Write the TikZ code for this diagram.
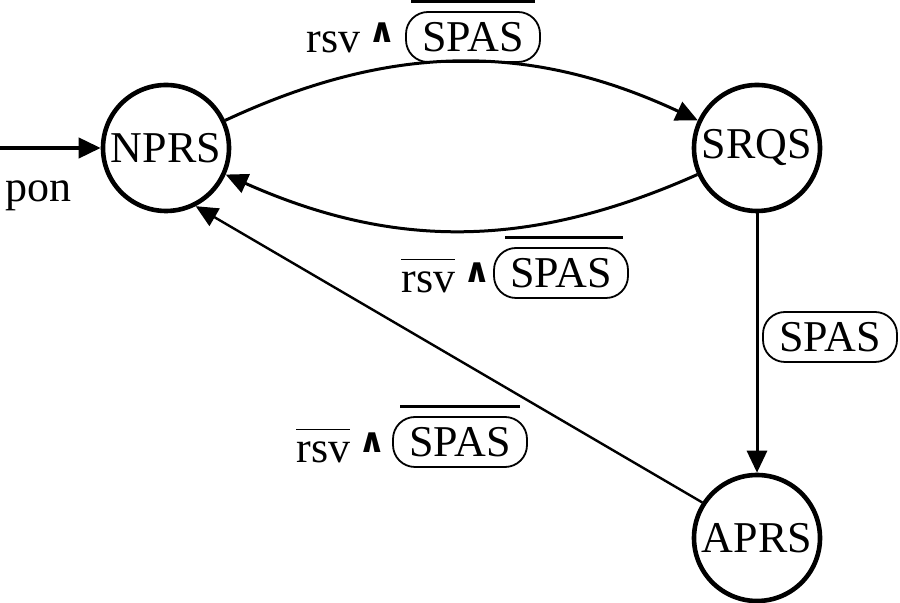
\documentclass[tikz,border=0pt]{standalone}
\usepackage{fontspec}
\setmainfont{Liberation Serif}
\newfontfamily\symfont{DejaVu Sans}
\usetikzlibrary{arrows.meta,positioning}
\newcommand{\andsym}{\hspace{4pt}\raisebox{5pt}{\symfont\bfseries\fontsize{17}{17}\selectfont ∧}}
\newcommand{\negrsv}{$\overline{\mbox{rsv}\vphantom{\mbox{l}}}$}
\tikzset{
  state/.style={circle,draw,line width=2.3pt,minimum size=63pt,inner sep=0pt},
  trans/.style={draw,line width=1.5pt,-{Triangle[length=11pt,width=10pt]}},
  guard/.style={draw,line width=0.9pt,rounded corners=11pt,
    minimum width=67pt,minimum height=25pt,inner sep=0pt},
  negbar/.style={draw,line width=1.5pt},
  lbl/.style={inner sep=0pt,anchor=base west}
}

\begin{document}
\begin{tikzpicture}[x=0.5pt,y=-0.5pt,font=\fontsize{22}{26}\selectfont]
  \useasboundingbox (0,0) rectangle (900,603);
  % states
  \node[state] (nprs) at (166,148) {NPRS};
  \node[state] (srqs) at (757,148) {SRQS};
  \node[state] (aprs) at (757,538) {APRS};
  \coordinate (start) at (0,148);
  % transitions
  \draw[trans,line width=2pt] (start) -- (nprs);
  \draw[trans] (nprs) to[bend left=25] (srqs);
  \draw[trans] (srqs) to[bend left=24] (nprs);
  \draw[trans] (srqs) -- (aprs);
  \draw[trans,line width=1.2pt] (aprs.147) -- (nprs.-63);
  % labels
  \node[lbl] (pon) at (5,202) {pon};
  \node[lbl] (r1) at (306,53) {rsv\andsym};
  \node[guard] (g1) at (473,37) {SPAS};
  \draw[negbar] ([xshift=3pt,yshift=5pt]g1.north west) -- ([xshift=-3pt,yshift=5pt]g1.north east);
  \node[lbl] (r2) at (401,293) {\negrsv\andsym};
  \node[guard] (g2) at (561,273) {SPAS};
  \draw[negbar] ([xshift=6pt,yshift=5pt]g2.north west) -- ([xshift=-3pt,yshift=5pt]g2.north east);
  \node[lbl] (r3) at (296,463) {\negrsv\andsym};
  \node[guard] (g3) at (460,442) {SPAS};
  \draw[negbar] ([xshift=4pt,yshift=5pt]g3.north west) -- ([xshift=-4pt,yshift=5pt]g3.north east);
  \node[guard] (g4) at (830,337) {SPAS};
\end{tikzpicture}
\end{document}
